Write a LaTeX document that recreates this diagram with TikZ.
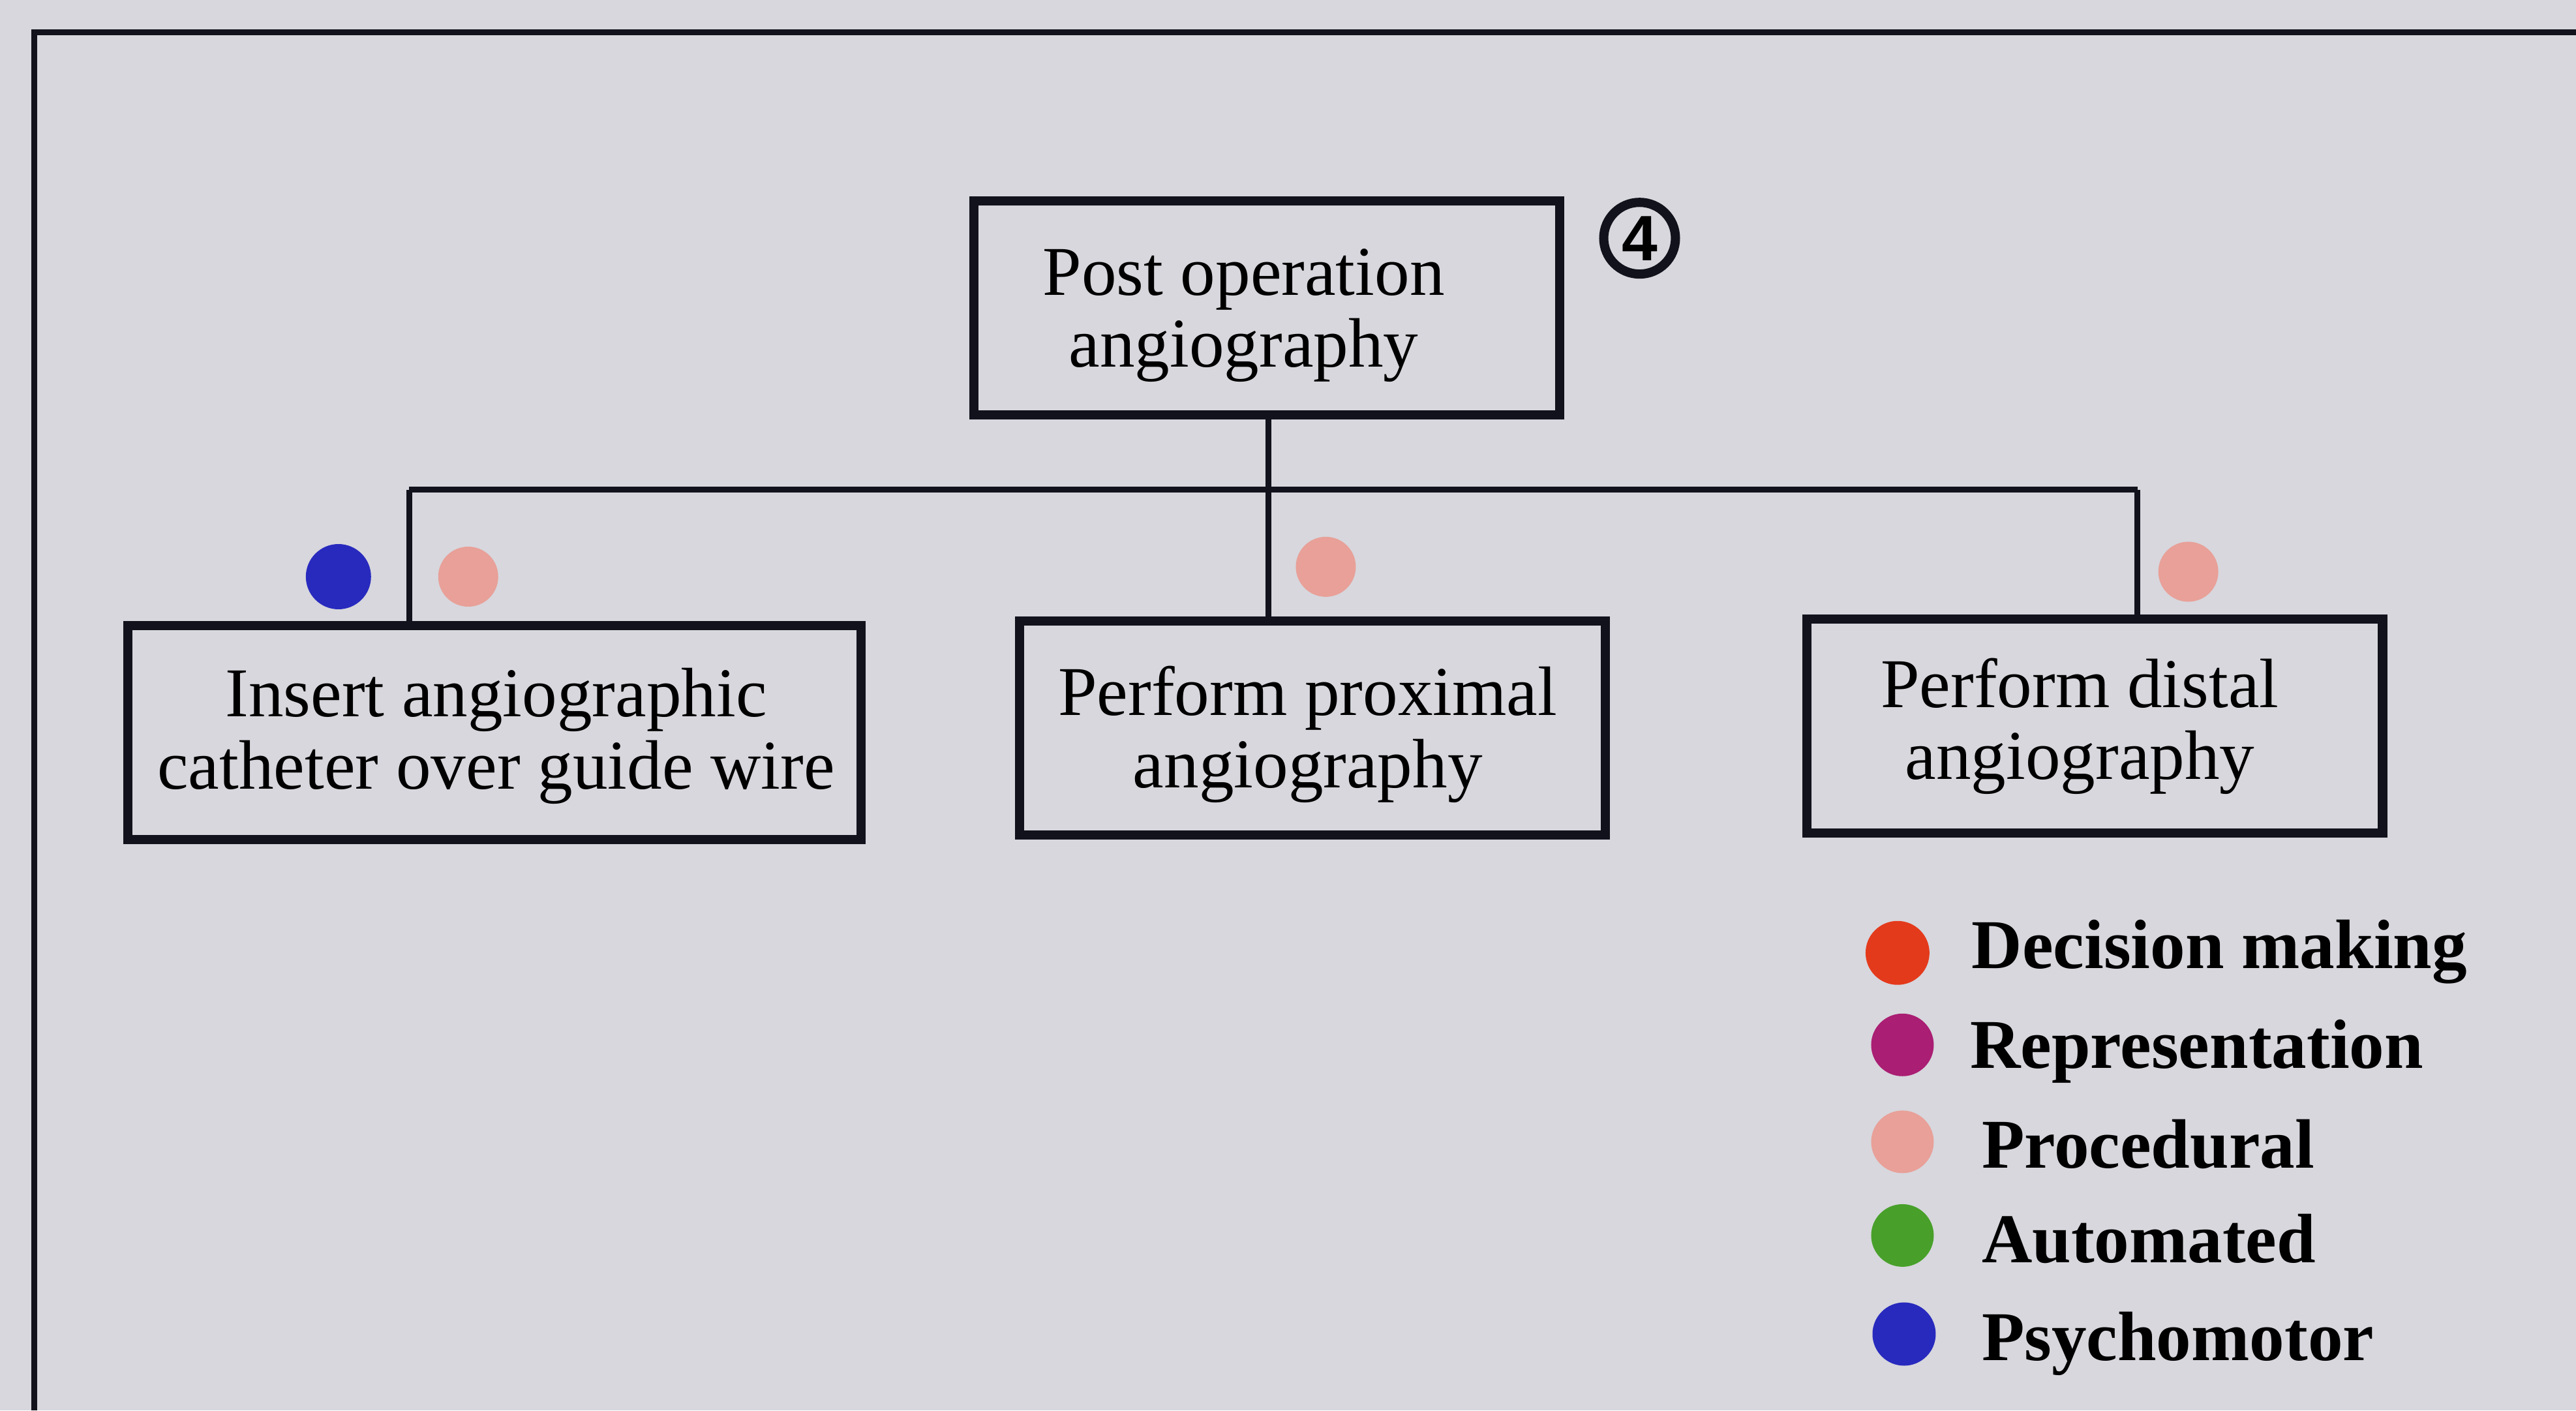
\documentclass[tikz,border=0pt]{standalone}
\usepackage{fontspec}
\setmainfont{Liberation Serif}
\newfontfamily\digitfont{Liberation Sans}
\definecolor{paper}{RGB}{215,215,221}
\definecolor{ink}{RGB}{18,18,28}
\definecolor{decision}{RGB}{228,58,28}
\definecolor{representation}{RGB}{170,30,115}
\definecolor{procedural}{RGB}{232,160,152}
\definecolor{automated}{RGB}{72,160,42}
\definecolor{psychomotor}{RGB}{40,42,190}
\tikzset{
  task/.style={draw=ink, line width=4pt, inner sep=0pt, minimum height=3.28cm},
  tasktext/.style={align=center, inner sep=0pt, font=\fontsize{30.5}{31.5}\selectfont},
  link/.style={draw=ink, line width=2.6pt},
  dotmark/.style={circle, inner sep=0pt, minimum size=0.94cm},
  keytext/.style={anchor=base west, inner sep=0pt,
    font=\fontsize{30.5}{31.5}\selectfont\bfseries},
}
\begin{document}
\begin{tikzpicture}[x=0.025185cm,y=-0.025185cm]
% page background and bounding box
\fill[paper] (0,0) rectangle (1568,858.45);
\useasboundingbox (0,0) rectangle (1568,858.45);

% outer frame (top and left edges)
\draw[ink, line width=2.6pt] (21,858.45) -- (21,19.8) -- (1568,19.8);

% task boxes
\node[task, minimum width=8.98cm]  (top) at (771,187.5) {};
\node[task, minimum width=11.25cm] (b1) at (301,446) {};
\node[task, minimum width=8.98cm]  (b2) at (799,443) {};
\node[task, minimum width=8.83cm]  (b3) at (1275,442) {};

% task labels
\node[tasktext] (topt) at (757,192) {Post operation\\angiography};
\node[tasktext] (b1t) at (302,448) {Insert angiographic\\catheter over guide wire};
\node[tasktext] (b2t) at (796,447) {Perform proximal\\angiography};
\node[tasktext] (b3t) at (1266,442) {Perform distal\\angiography};

% step number
\node[circle, draw=ink, line width=4pt, minimum size=1.1cm, inner sep=0pt,
      font=\digitfont\fontsize{28}{28}\selectfont\bfseries] (num) at (998,145) {4};

% hierarchy connectors
\coordinate (j1) at (249,298);
\coordinate (j2) at (772,298);
\coordinate (j3) at (1301,298);
\draw[link] (top.south -| j2) -- (j2);
\draw[link] (j1) -- (j3);
\draw[link] (j1) -- (j1 |- b1.north);
\draw[link] (j2) -- (j2 |- b2.north);
\draw[link] (j3) -- (j3 |- b3.north);

% skill markers on the subtasks
\node[dotmark, fill=psychomotor, minimum size=1.0cm] (d1a) at (206,351) {};
\node[dotmark, fill=procedural, minimum size=0.92cm] (d1b) at (285,351) {};
\node[dotmark, fill=procedural, minimum size=0.92cm] (d2) at (807,345) {};
\node[dotmark, fill=procedural, minimum size=0.92cm] (d3) at (1332,348) {};

% legend
\node[dotmark, fill=decision, minimum size=0.98cm]       (k1) at (1155,580) {};
\node[dotmark, fill=representation, minimum size=0.96cm] (k2) at (1158,636) {};
\node[dotmark, fill=procedural, minimum size=0.96cm]     (k3) at (1158,695) {};
\node[dotmark, fill=automated, minimum size=0.96cm]      (k4) at (1158,752) {};
\node[dotmark, fill=psychomotor, minimum size=0.97cm]    (k5) at (1159,812) {};
\node[keytext] (t1) at (1200,589.5) {Decision making};
\node[keytext] (t2) at (1199,650) {Representation};
\node[keytext] (t3) at (1206,711) {Procedural};
\node[keytext] (t4) at (1206,768.5) {Automated};
\node[keytext] (t5) at (1206,828) {Psychomotor};
\end{tikzpicture}
\end{document}
